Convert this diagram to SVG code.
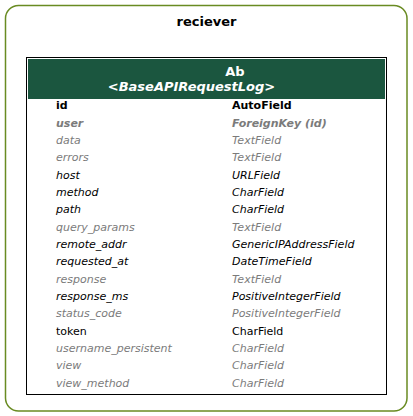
<svg xmlns="http://www.w3.org/2000/svg" width="413" height="416" viewBox="0 0 413 416">
<style>
.t{font-family:"DejaVu Sans",sans-serif;font-size:11px}
.k{fill:#000}
.g{fill:#7b7b7b}
.i{font-style:italic}
.b{font-weight:bold}
.h{font-family:"DejaVu Sans",sans-serif;font-size:13px;font-weight:bold;fill:#fff}
</style>
<rect x="0" y="0" width="413" height="416" fill="#fff"/>
<g id="cluster_reciever">
<rect x="5.5" y="5.5" width="401.5" height="405.5" rx="13" ry="13" fill="none" stroke="#698b22" stroke-width="1.5"/>
<text x="206.5" y="26" text-anchor="middle" font-family="DejaVu Sans,sans-serif" font-size="13" font-weight="bold">reciever</text>
</g>
<g id="node_Ab">
<rect x="26.5" y="57.5" width="360" height="337" fill="#fff" stroke="#000" stroke-width="1"/>
<rect x="28" y="59" width="357" height="40" fill="#1b563f"/>
<text x="235" y="75.5" text-anchor="middle" class="h">Ab</text>
<text x="191.5" y="91" text-anchor="middle" class="h" font-style="italic">&lt;BaseAPIRequestLog&gt;</text>
<g class="t">
<text x="56" y="109" class="b k">id</text><text x="232" y="109" class="b k">AutoField</text>
<text x="56" y="126.5" class="b i g">user</text><text x="232" y="126.5" class="b i g">ForeignKey (id)</text>
<text x="56" y="144" class="i g">data</text><text x="232" y="144" class="i g">TextField</text>
<text x="56" y="161" class="i g">errors</text><text x="232" y="161" class="i g">TextField</text>
<text x="56" y="178.5" class="i k">host</text><text x="232" y="178.5" class="i k">URLField</text>
<text x="56" y="196" class="i k">method</text><text x="232" y="196" class="i k">CharField</text>
<text x="56" y="213" class="i k">path</text><text x="232" y="213" class="i k">CharField</text>
<text x="56" y="230.5" class="i g">query_params</text><text x="232" y="230.5" class="i g">TextField</text>
<text x="56" y="248" class="i k">remote_addr</text><text x="232" y="248" class="i k">GenericIPAddressField</text>
<text x="56" y="265" class="i k">requested_at</text><text x="232" y="265" class="i k">DateTimeField</text>
<text x="56" y="282.5" class="i g">response</text><text x="232" y="282.5" class="i g">TextField</text>
<text x="56" y="300" class="i k">response_ms</text><text x="232" y="300" class="i k">PositiveIntegerField</text>
<text x="56" y="317" class="i g">status_code</text><text x="232" y="317" class="i g">PositiveIntegerField</text>
<text x="56" y="334.5" class="k">token</text><text x="232" y="334.5" class="k">CharField</text>
<text x="56" y="352" class="i g">username_persistent</text><text x="232" y="352" class="i g">CharField</text>
<text x="56" y="369" class="i g">view</text><text x="232" y="369" class="i g">CharField</text>
<text x="56" y="386.5" class="i g">view_method</text><text x="232" y="386.5" class="i g">CharField</text>
</g>
</g>
<g id="connectors"></g>
</svg>
